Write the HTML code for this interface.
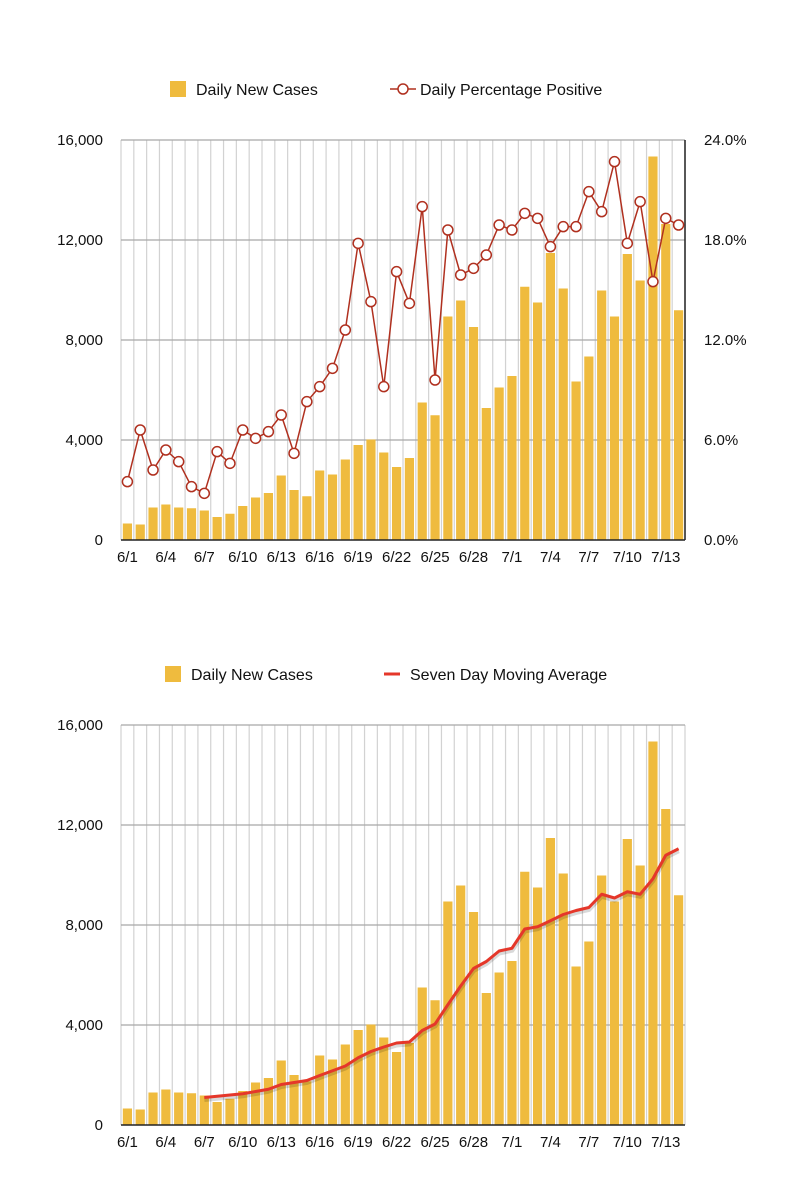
<!DOCTYPE html>
<html><head><meta charset="utf-8"><style>
body{margin:0;background:#fff;}
svg{display:block;font-family:"Liberation Sans",Arial,sans-serif;}
</style></head><body>
<svg id="svg" width="792" height="1200"></svg>
<script>
const categories=["6/1","6/2","6/3","6/4","6/5","6/6","6/7","6/8","6/9","6/10","6/11","6/12","6/13","6/14","6/15","6/16","6/17","6/18","6/19","6/20","6/21","6/22","6/23","6/24","6/25","6/26","6/27","6/28","6/29","6/30","7/1","7/2","7/3","7/4","7/5","7/6","7/7","7/8","7/9","7/10","7/11","7/12","7/13","7/14"];
const dailyCases=[660,620,1300,1420,1300,1270,1180,920,1050,1360,1700,1880,2580,2000,1750,2780,2620,3220,3800,4020,3500,2920,3280,5500,4990,8940,9580,8520,5280,6100,6560,10130,9500,11480,10060,6340,7340,9980,8940,11440,10380,15340,12640,9190];
const pctPositive=[3.5,6.6,4.2,5.4,4.7,3.2,2.8,5.3,4.6,6.6,6.1,6.5,7.5,5.2,8.3,9.2,10.3,12.6,17.8,14.3,9.2,16.1,14.2,20.0,9.6,18.6,15.9,16.3,17.1,18.9,18.6,19.6,19.3,17.6,18.8,18.8,20.9,19.7,22.7,17.8,20.3,15.5,19.3,18.9];
const movingAvg=[null,null,null,null,null,null,1100,1150,1200,1250,1340,1430,1620,1700,1780,1980,2170,2360,2690,2940,3120,3280,3320,3780,4040,4810,5560,6260,6540,6960,7070,7840,7930,8170,8420,8580,8700,9230,9080,9330,9230,9850,10790,11050];
const yTicks=[0,4000,8000,12000,16000];
const yTickLabels=["0","4,000","8,000","12,000","16,000"];
const pctTickLabels=["0.0%","6.0%","12.0%","18.0%","24.0%"];
const xLabelIdx=[0,3,6,9,12,15,18,21,24,27,30,33,36,39,42];

const NS="http://www.w3.org/2000/svg";
const svg=document.getElementById('svg');
function mk(tag,attrs,parent,text){const e=document.createElementNS(NS,tag);for(const k in attrs)e.setAttribute(k,attrs[k]);if(text!==undefined)e.textContent=text;(parent||svg).appendChild(e);return e;}
const L=121,R=685,W=R-L,slot=W/categories.length;
function xc(i){return L+slot*(i+0.5);}
function chart(top,bottom,second){
  const g=mk('g',{});
  
  
  const y=v=>bottom-(v/16000)*(bottom-top);
  for(let i=0;i<=categories.length;i++){
    const l=mk('line',{x1:L+slot*i,x2:L+slot*i,y1:top,y2:bottom,stroke:'#d2d2d2','stroke-width':1.2},g);
    
    
  }
  yTicks.forEach((t,i)=>{
    if(t>0){const l=mk('line',{x1:L,x2:R,y1:y(t),y2:y(t),stroke:'#a8a8a8','stroke-width':1.2},g);
    
    }
    const tx=mk('text',{x:103,y:y(t)+5,'text-anchor':'end','font-size':15,fill:'#111'},g,yTickLabels[i]);
    
    
    if(!second){const tr=mk('text',{x:704,y:y(t)+5,'font-size':15,fill:'#111'},g,pctTickLabels[i]);
    
    }
  });
  dailyCases.forEach((v,i)=>{
    const b=mk('rect',{x:xc(i)-4.6,y:y(v),width:9.2,height:bottom-y(v),fill:'#efbb3e'},g);
    
    
  });
  const ax=mk('line',{x1:L,x2:R,y1:bottom,y2:bottom,stroke:'#222','stroke-width':1.5},g);
  
  
  xLabelIdx.forEach(i=>{
    const t=mk('text',{x:xc(i),y:bottom+22,'text-anchor':'middle','font-size':15,fill:'#111'},g,categories[i]);
    
    
  });
  if(!second){
    const ra=mk('line',{x1:R,x2:R,y1:top,y2:bottom,stroke:'#222','stroke-width':1.5},g);
    
    
    const yp=p=>bottom-(p/24)*(bottom-top);
    const pts=pctPositive.map((p,i)=>xc(i)+','+yp(p)).join(' ');
    const pl=mk('polyline',{points:pts,fill:'none',stroke:'#b0301f','stroke-width':1.5},g);
    
    
    pctPositive.forEach((p,i)=>{
      const c=mk('circle',{cx:xc(i),cy:yp(p),r:5,fill:'#fff',stroke:'#b0301f','stroke-width':1.5},g);
      
      
    });
  } else {
    const pts=movingAvg.map((v,i)=>v==null?null:xc(i)+','+y(v)).filter(s=>s).join(' ');
    const sh=mk('polyline',{points:pts,fill:'none',stroke:'rgba(0,0,0,0.15)','stroke-width':5,transform:'translate(0,2)'},g);
    
    
    const pl=mk('polyline',{points:pts,fill:'none',stroke:'#e5372a','stroke-width':3,'stroke-linejoin':'round'},g);
    
    
  }
}
chart(140,540,false);
chart(725,1125,true);
// legends
let r=mk('rect',{x:170,y:81,width:16,height:16,fill:'#efbb3e'});


let t=mk('text',{x:196,y:95,'font-size':16,fill:'#111'},svg,'Daily New Cases');


let l=mk('line',{x1:390,x2:416,y1:89,y2:89,stroke:'#b0301f','stroke-width':1.5});


let c=mk('circle',{cx:403,cy:89,r:5,fill:'#fff',stroke:'#b0301f','stroke-width':1.5});


t=mk('text',{x:420,y:95,'font-size':16,fill:'#111'},svg,'Daily Percentage Positive');


r=mk('rect',{x:165,y:666,width:16,height:16,fill:'#efbb3e'});


t=mk('text',{x:191,y:680,'font-size':16,fill:'#111'},svg,'Daily New Cases');


l=mk('line',{x1:384,x2:400,y1:674,y2:674,stroke:'#e5372a','stroke-width':3});


t=mk('text',{x:410,y:680,'font-size':16,fill:'#111'},svg,'Seven Day Moving Average');


</script>
</body></html>
